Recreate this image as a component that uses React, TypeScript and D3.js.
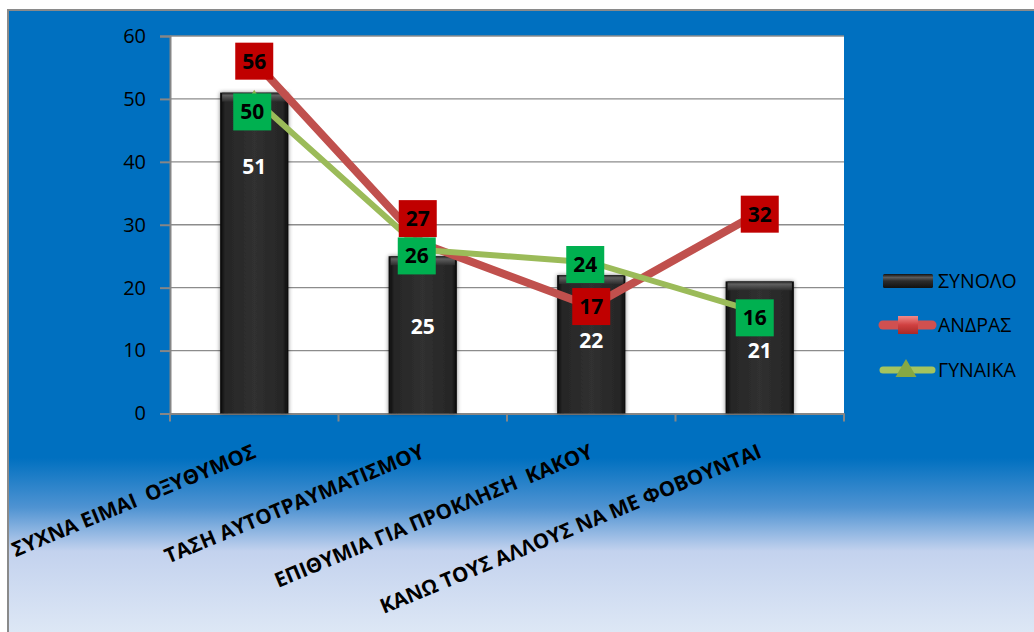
import * as d3 from "d3";
import { useEffect, useRef } from "react";

// chart data
const categories = [
  "ΣΥΧΝΑ ΕΙΜΑΙ  ΟΞΥΘΥΜΟΣ",
  "ΤΑΣΗ ΑΥΤΟΤΡΑΥΜΑΤΙΣΜΟΥ",
  "ΕΠΙΘΥΜΙΑ ΓΙΑ ΠΡΟΚΛΗΣΗ  ΚΑΚΟΥ",
  "ΚΑΝΩ ΤΟΥΣ ΑΛΛΟΥΣ ΝΑ ΜΕ ΦΟΒΟΥΝΤΑΙ",
];
const totalValues = [51, 25, 22, 21];
const maleValues = [56, 27, 17, 32];
const femaleValues = [50, 26, 24, 16];
const yTicks = [0, 10, 20, 30, 40, 50, 60];
const seriesNames = ["ΣΥΝΟΛΟ", "ΑΝΔΡΑΣ", "ΓΥΝΑΙΚΑ"];

// label nudges (layout only)
const maleNudge = [[0, 0], [-5, -25], [0, 0], [0, 2]];
const femaleNudge = [[-2, 13], [-6, 6], [-6, 2], [-5, 5]];
const barLabelDrop = [74, 70, 66, 69];

const FONT = "'Open Sans', 'Noto Sans', sans-serif";

export default function App() {
  const ref = useRef<SVGSVGElement>(null);

  useEffect(() => {
    const svg = d3.select(ref.current);
    svg.selectAll("*").remove();

    const W = 1034;
    const H = 632;
    const plot = { left: 170, right: 844, top: 36, bottom: 413.5 };

    const defs = svg.append("defs");

    const bg = defs
      .append("linearGradient")
      .attr("id", "bgGrad")
      .attr("gradientUnits", "userSpaceOnUse")
      .attr("x1", 0).attr("y1", 10).attr("x2", 0).attr("y2", H);
    [
      [0, "#0070c0"],
      [0.72, "#0070c0"],
      [0.8, "#4f93d2"],
      [0.87, "#c3d2ee"],
      [1, "#dde7f5"],
    ].forEach(([o, c]) => bg.append("stop").attr("offset", o as number).attr("stop-color", c as string));

    const barGrad = defs.append("linearGradient").attr("id", "barGrad").attr("x1", 0).attr("x2", 1).attr("y1", 0).attr("y2", 0);
    [
      [0, "#0a0a0a"],
      [0.08, "#262626"],
      [0.5, "#303030"],
      [0.92, "#262626"],
      [1, "#0a0a0a"],
    ].forEach(([o, c]) => barGrad.append("stop").attr("offset", o as number).attr("stop-color", c as string));

    const capGrad = defs.append("linearGradient").attr("id", "capGrad").attr("x1", 0).attr("x2", 0).attr("y1", 0).attr("y2", 1);
    [
      [0, "#1a1a1a"],
      [0.3, "#6a6a6a"],
      [1, "#2e2e2e"],
    ].forEach(([o, c]) => capGrad.append("stop").attr("offset", o as number).attr("stop-color", c as string));

    const legBar = defs.append("linearGradient").attr("id", "legBar").attr("x1", 0).attr("x2", 0).attr("y1", 0).attr("y2", 1);
    [
      [0, "#111"],
      [0.25, "#5a5a5a"],
      [0.5, "#2c2c2c"],
      [1, "#111"],
    ].forEach(([o, c]) => legBar.append("stop").attr("offset", o as number).attr("stop-color", c as string));

    const redMark = defs.append("linearGradient").attr("id", "redMark").attr("x1", 0).attr("x2", 0).attr("y1", 0).attr("y2", 1);
    [
      [0, "#f08a8a"],
      [0.5, "#d04040"],
      [1, "#a82a28"],
    ].forEach(([o, c]) => redMark.append("stop").attr("offset", o as number).attr("stop-color", c as string));

    const shadow = defs.append("filter").attr("id", "barShadow").attr("x", "-20%").attr("y", "-10%").attr("width", "140%").attr("height", "120%");
    shadow.append("feGaussianBlur").attr("in", "SourceAlpha").attr("stdDeviation", 2).attr("result", "b");
    shadow.append("feFlood").attr("flood-color", "#000").attr("flood-opacity", 0.5);
    shadow.append("feComposite").attr("in2", "b").attr("operator", "in").attr("result", "s");
    const merge = shadow.append("feMerge");
    merge.append("feMergeNode").attr("in", "s");
    merge.append("feMergeNode").attr("in", "SourceGraphic");

    // background + frame
    svg.append("rect").attr("x", 0).attr("y", 0).attr("width", W).attr("height", H).attr("fill", "#fff");
    svg
      .append("rect")
      .attr("x", 8)
      .attr("y", 10)
      .attr("width", W + 10)
      .attr("height", H + 10)
      .attr("fill", "url(#bgGrad)")
      .attr("stroke", "#8a8a8a")
      .attr("stroke-width", 2);

    const x = d3.scaleBand<string>().domain(categories).range([plot.left, plot.right]).paddingInner(0).paddingOuter(0);
    const y = d3.scaleLinear().domain([0, 60]).range([plot.bottom, plot.top]);
    const cx = (i: number) => (x(categories[i]) as number) + x.bandwidth() / 2;

    // plot area
    svg
      .append("rect")
      .attr("x", plot.left)
      .attr("y", plot.top)
      .attr("width", plot.right - plot.left)
      .attr("height", plot.bottom - plot.top)
      .attr("fill", "#fff");

    // grid
    svg
      .append("g")
      .selectAll("line")
      .data(yTicks.filter((t) => t > 0))
      .join("line")
      .attr("x1", plot.left)
      .attr("x2", plot.right)
      .attr("y1", (d) => y(d))
      .attr("y2", (d) => y(d))
      .attr("stroke", "#8c8c8c")
      .attr("stroke-width", 1.3);

    // y axis
    const yAxis = svg
      .append("g")
      .attr("transform", `translate(${plot.left},0)`)
      .call(d3.axisLeft(y).tickValues(yTicks).tickSize(10).tickPadding(14).tickFormat((d) => String(d)));
    yAxis.select(".domain").attr("stroke", "#868686").attr("stroke-width", 2);
    yAxis.selectAll(".tick line").attr("stroke", "#868686").attr("stroke-width", 2);
    yAxis
      .selectAll(".tick text")
      .attr("fill", "#000")
      .attr("font-family", FONT)
      .attr("font-size", 20);

    // x axis
    const xAxis = svg
      .append("g")
      .attr("transform", `translate(0,${plot.bottom})`)
      .call(d3.axisBottom(x).tickSize(0).tickFormat(() => ""));
    xAxis.select(".domain").attr("stroke", "#868686").attr("stroke-width", 2);
    xAxis.selectAll(".tick").remove();
    xAxis
      .selectAll("line.sep")
      .data(d3.range(categories.length + 1))
      .join("line")
      .attr("class", "sep")
      .attr("x1", (i) => plot.left + i * x.step())
      .attr("x2", (i) => plot.left + i * x.step())
      .attr("y1", 0)
      .attr("y2", 8)
      .attr("stroke", "#868686")
      .attr("stroke-width", 2);

    // bars
    const bw = x.bandwidth() * 0.405;
    const bars = svg.append("g");
    totalValues.forEach((v, i) => {
      const bx = cx(i) - bw / 2;
      const by = y(v);
      bars
        .append("rect")
        .attr("x", bx)
        .attr("y", by)
        .attr("width", bw)
        .attr("height", plot.bottom - by)
        .attr("fill", "url(#barGrad)")
        .attr("filter", "url(#barShadow)");
      bars
        .append("rect")
        .attr("x", bx + 2)
        .attr("y", by)
        .attr("width", bw - 4)
        .attr("height", 9)
        .attr("fill", "url(#capGrad)")
        .attr("opacity", 0.85);
      bars
        .append("text")
        .attr("x", cx(i))
        .attr("y", by + barLabelDrop[i])
        .attr("dy", "0.35em")
        .attr("text-anchor", "middle")
        .attr("fill", "#fff")
        .attr("font-family", FONT)
        .attr("font-weight", "bold")
        .attr("font-size", 21)
        .text(v);
    });

    // lines
    const line = d3
      .line<number>()
      .x((_, i) => cx(i))
      .y((d) => y(d));

    svg
      .append("path")
      .datum(maleValues)
      .attr("d", line)
      .attr("fill", "none")
      .attr("stroke", "#c0504d")
      .attr("stroke-width", 8)
      .attr("stroke-linejoin", "round");
    svg
      .append("g")
      .selectAll("rect")
      .data(maleValues)
      .join("rect")
      .attr("x", (_, i) => cx(i) - 6)
      .attr("y", (d) => y(d) - 6)
      .attr("width", 12)
      .attr("height", 12)
      .attr("fill", "url(#redMark)");

    svg
      .append("path")
      .datum(femaleValues)
      .attr("d", line)
      .attr("fill", "none")
      .attr("stroke", "#9bbb59")
      .attr("stroke-width", 6)
      .attr("stroke-linejoin", "round");
    const tri = d3.symbol().type(d3.symbolTriangle).size(110);
    svg
      .append("g")
      .selectAll("path")
      .data(femaleValues)
      .join("path")
      .attr("transform", (d, i) => `translate(${cx(i)},${y(d)})`)
      .attr("d", tri())
      .attr("fill", "#8fb04a");

    // data label boxes
    const labelBox = (vals: number[], nudge: number[][], fill: string) => {
      const g = svg.append("g");
      vals.forEach((v, i) => {
        const lx = cx(i) + nudge[i][0];
        const ly = y(v) + nudge[i][1];
        g.append("rect")
          .attr("x", lx - 19)
          .attr("y", ly - 18.5)
          .attr("width", 38)
          .attr("height", 37)
          .attr("fill", fill);
        g.append("text")
          .attr("x", lx)
          .attr("y", ly)
          .attr("dy", "0.36em")
          .attr("text-anchor", "middle")
          .attr("fill", "#000")
          .attr("font-family", FONT)
          .attr("font-weight", "bold")
          .attr("font-size", 21)
          .text(v);
      });
    };
    labelBox(maleValues, maleNudge, "#c00000");
    labelBox(femaleValues, femaleNudge, "#00b050");

    // category labels
    svg
      .append("g")
      .selectAll("text")
      .data(categories)
      .join("text")
      .attr("transform", (_, i) => `translate(${cx(i) + 3},457) rotate(-22.5)`)
      .attr("text-anchor", "end")
      .attr("fill", "#000")
      .attr("font-family", FONT)
      .attr("font-weight", "bold")
      .attr("font-size", 20.5)
      .style("white-space", "pre")
      .text((d) => d);

    // legend
    const leg = svg.append("g").attr("transform", "translate(880,0)");
    const rows = [281, 325, 370];
    leg.append("rect").attr("x", 3).attr("y", rows[0] - 7).attr("width", 50).attr("height", 14).attr("rx", 1.5).attr("fill", "url(#legBar)");
    leg.append("line").attr("x1", 3).attr("x2", 52).attr("y1", rows[1]).attr("y2", rows[1]).attr("stroke", "#d05050").attr("stroke-width", 9).attr("stroke-linecap", "round");
    leg.append("rect").attr("x", 18).attr("y", rows[1] - 9).attr("width", 20).attr("height", 18).attr("fill", "url(#redMark)");
    leg.append("line").attr("x1", 3).attr("x2", 52).attr("y1", rows[2]).attr("y2", rows[2]).attr("stroke", "#a4c45e").attr("stroke-width", 7).attr("stroke-linecap", "round");
    leg
      .append("path")
      .attr("transform", `translate(26,${rows[2] + 1})`)
      .attr("d", d3.symbol().type(d3.symbolTriangle).size(190)())
      .attr("fill", "#86a843");
    leg
      .selectAll("text")
      .data(seriesNames)
      .join("text")
      .attr("x", 58)
      .attr("y", (_, i) => rows[i])
      .attr("dy", "0.36em")
      .attr("fill", "#000")
      .attr("font-family", FONT)
      .attr("font-size", 19.5)
      .text((d) => d);
  }, []);

  return (
    <svg
      ref={ref}
      width={1034}
      height={632}
      style={{ position: "absolute", left: 0, top: 0, display: "block" }}
    />
  );
}
